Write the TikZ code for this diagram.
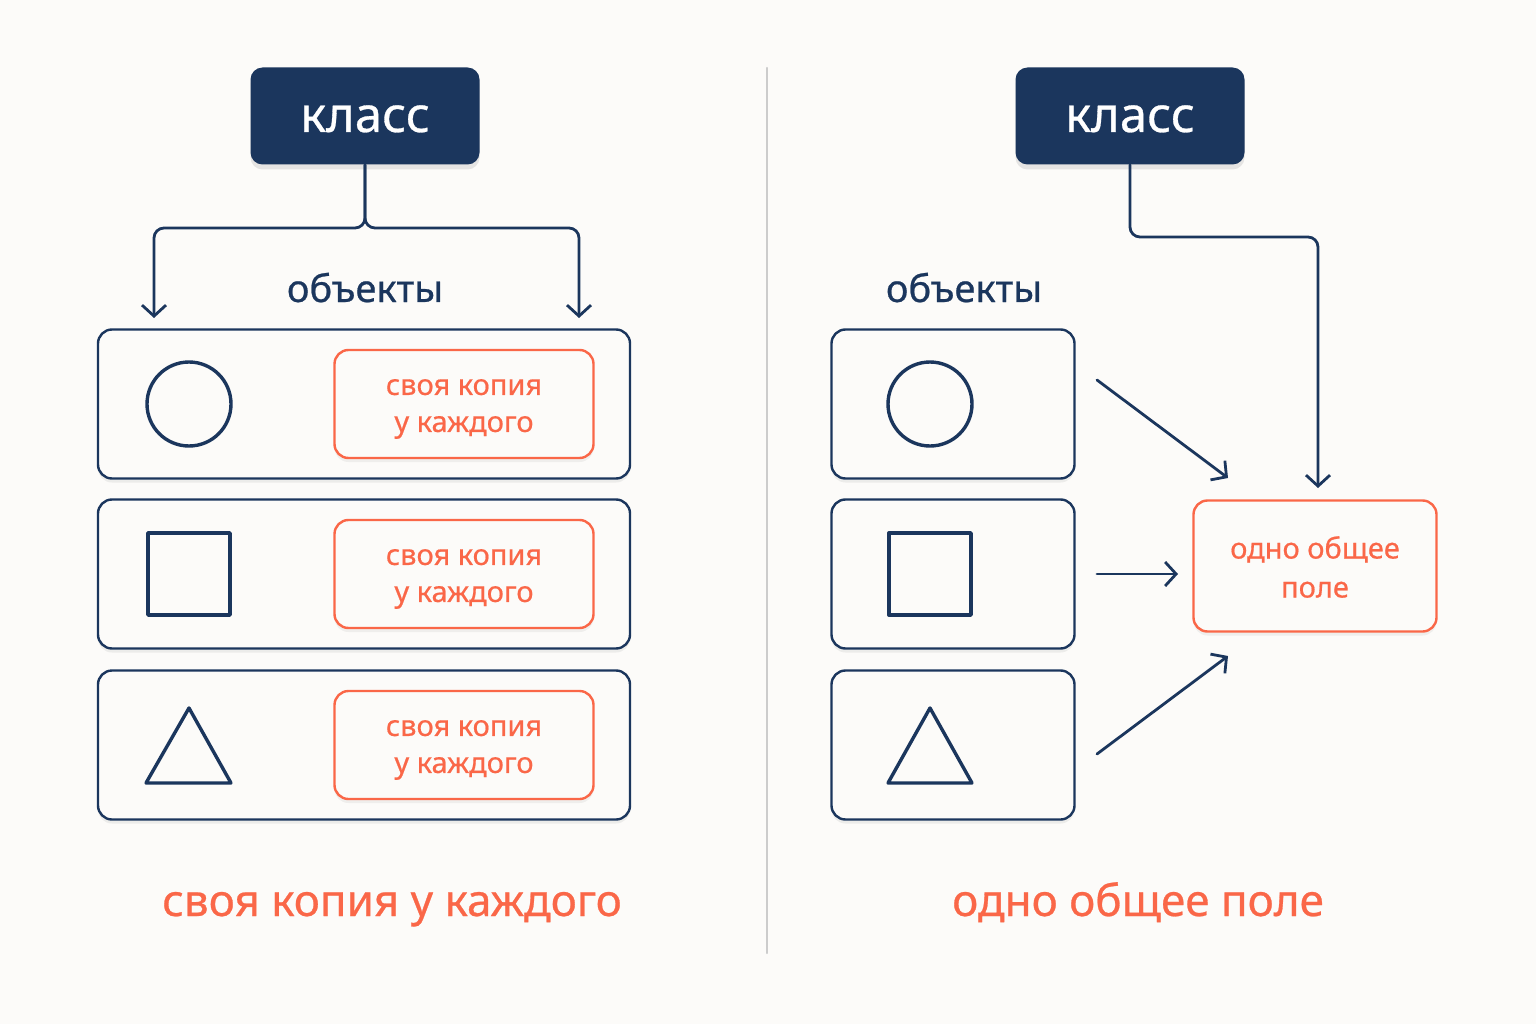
\documentclass[tikz,border=0pt]{standalone}
\usepackage{fontspec}
\setmainfont{Noto Sans}
\newfontfamily\medfont{Noto Sans}[FakeBold=0.6]
\usetikzlibrary{arrows.meta,shadows,calc}
\definecolor{navy}{HTML}{1B365D}
\definecolor{coral}{HTML}{FA6748}
\definecolor{paper}{HTML}{FCFBF9}
\begin{document}
\begin{tikzpicture}[x=1pt,y=-1pt,line join=round,line cap=round,
  classbox/.style={fill=navy,rounded corners=12pt,minimum width=229pt,minimum height=97pt,drop shadow={opacity=.18,shadow xshift=0pt,shadow yshift=-5pt}},
  classtext/.style={anchor=base,text=white,font=\medfont\fontsize{49}{52}\selectfont},
  objbox/.style={draw=navy,line width=2.4pt,fill=paper,rounded corners=14pt,minimum height=149pt,drop shadow={opacity=.12,shadow xshift=0pt,shadow yshift=-4pt}},
  fieldbox/.style={draw=coral,line width=2.4pt,fill=paper,rounded corners=14pt,drop shadow={opacity=.10,shadow xshift=0pt,shadow yshift=-4pt}},
  fieldtext/.style={text=coral,align=center,font=\medfont\fontsize{29}{37}\selectfont},
  link/.style={draw=navy,line width=2.8pt,-{Straight Barb[length=11pt,width=24pt]}},
  figure/.style={draw=navy,line width=3.4pt},
  caption/.style={anchor=base,text=coral,font=\medfont\fontsize{44}{48}\selectfont},
  label/.style={anchor=base,text=navy,font=\medfont\fontsize{38}{40}\selectfont}]
\fill[paper] (0,0) rectangle (1536,1024);
\useasboundingbox (0,0) rectangle (1536,1024);
\draw[black!20,line width=2.4pt] (767,68) -- (767,953);
% left: each object has its own copy
\node[classbox] (classL) at (365,116) {};
\node[classtext] (classLtxt) at (365,132) {класс};
\node[label] (objL) at (365,302) {объекты};
\foreach \y [count=\i] in {404,574,745}{
  \node[objbox,minimum width=532pt] (objL\i) at (364,\y) {};
  \node[fieldbox,minimum width=259pt,minimum height=108pt] (fieldL\i) at (464,\y) {};
  \node[fieldtext] (textL\i) at ($(fieldL\i)+(0,5)$) {своя копия\\у каждого};
}
\coordinate (inL) at (154,318);
\coordinate (inR) at (579,318);
\draw[link,rounded corners=10pt] (classL.south) |- ($(inL)+(0,-90)$) -- (inL);
\draw[link,rounded corners=10pt] (classL.south) |- ($(inR)+(0,-90)$) -- (inR);
\node[figure,circle,minimum size=84pt] (circL) at (189,404) {};
\node[figure,rectangle,minimum size=82pt] (sqL) at (189,574) {};
\draw[figure] (146,783) -- (189,708) -- (231,783) -- cycle;
\node[caption] (capL) at (392,916) {своя копия у каждого};
% right: one shared field
\node[classbox] (classR) at (1130,116) {};
\node[classtext] (classRtxt) at (1130,132) {класс};
\node[label] (objR) at (964,302) {объекты};
\foreach \y [count=\i] in {404,574,745}{
  \node[objbox,minimum width=243pt] (objR\i) at (953,\y) {};
}
\node[figure,circle,minimum size=84pt] (circR) at (930,404) {};
\node[figure,rectangle,minimum size=82pt] (sqR) at (930,574) {};
\draw[figure] (888,783) -- (930,708) -- (972,783) -- cycle;
\node[fieldbox,minimum width=243pt,minimum height=131pt] (shared) at (1315,566) {};
\node[fieldtext,font=\medfont\fontsize{29}{39}\selectfont] (sharedtxt) at ($(shared)+(0,1)$) {одно общее\\поле};
\coordinate (top) at (1318,488);
\draw[link,rounded corners=10pt] (classR.south) |- (1318,237) -- (top);
\coordinate (a1) at (1097,380);
\coordinate (a2) at (1097,574);
\coordinate (a3) at (1097,754);
\draw[link] (a1) -- (1228,478);
\draw[link] (a2) -- (1178,574);
\draw[link] (a3) -- (1228,656);
\node[caption] (capR) at (1138,916) {одно общее поле};
\end{tikzpicture}
\end{document}
